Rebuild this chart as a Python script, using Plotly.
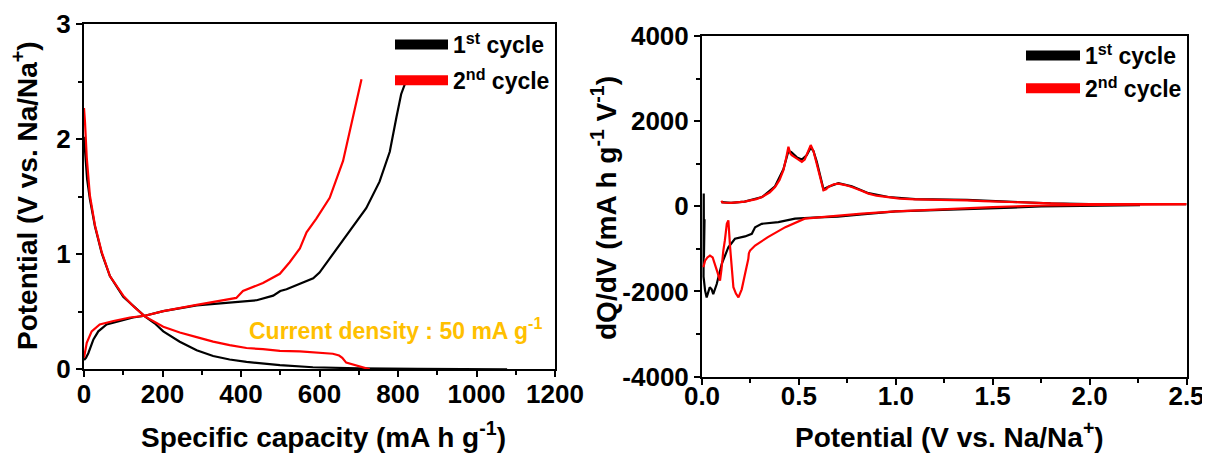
import plotly.graph_objects as go

# ---------------- Left panel: galvanostatic profiles ----------------
cap_dis1 = [0, 3, 8, 15, 28, 45, 66, 100, 125, 155, 180, 202, 244, 287, 329, 371, 414, 456, 499, 583, 700, 850, 1000, 1078]
pot_dis1 = [2.02, 1.85, 1.65, 1.48, 1.24, 1.01, 0.81, 0.63, 0.55, 0.46, 0.40, 0.33, 0.24, 0.165, 0.115, 0.085, 0.065, 0.048, 0.036, 0.018, 0.008, 0.004, 0.002, 0.0]

cap_dis2 = [0, 2.5, 7, 15, 28, 45, 66, 100, 125, 155, 202, 244, 287, 329, 371, 414, 456, 499, 550, 600, 634, 650, 658, 668, 698, 728]
pot_dis2 = [2.27, 2.15, 1.84, 1.51, 1.25, 1.02, 0.81, 0.64, 0.55, 0.46, 0.37, 0.32, 0.28, 0.24, 0.21, 0.185, 0.175, 0.16, 0.155, 0.145, 0.135, 0.12, 0.10, 0.058, 0.03, 0.0]

cap_ch1 = [0, 5, 11, 18, 24, 36.5, 57.6, 91.6, 125, 155, 202, 287, 371, 440, 482, 500, 516, 550, 584, 600, 634, 677, 719, 753, 779, 796, 808, 821]
pot_ch1 = [0.08, 0.10, 0.14, 0.20, 0.26, 0.33, 0.39, 0.42, 0.45, 0.465, 0.505, 0.555, 0.58, 0.60, 0.64, 0.68, 0.695, 0.74, 0.79, 0.84, 1.0, 1.2, 1.4, 1.63, 1.89, 2.19, 2.39, 2.51]

cap_ch2 = [0, 7, 19.5, 40, 75, 117, 155, 202, 287, 371, 388, 405, 456, 499, 524, 550, 567, 592, 626, 660, 686, 707]
pot_ch2 = [0.10, 0.23, 0.33, 0.39, 0.42, 0.45, 0.465, 0.505, 0.56, 0.61, 0.62, 0.68, 0.75, 0.83, 0.93, 1.05, 1.19, 1.31, 1.49, 1.81, 2.19, 2.52]

# ---------------- Right panel: dQ/dV ----------------
v_dis1 = [2.26, 2.0, 1.75, 1.6, 1.5, 1.26, 1.0, 0.825, 0.70, 0.6, 0.48, 0.394, 0.308, 0.274, 0.257, 0.222, 0.17, 0.136,
          0.102, 0.076, 0.065, 0.058, 0.05, 0.04, 0.03, 0.024, 0.016, 0.010, 0.008, 0.009, 0.010, 0.011, 0.012, 0.013]
q_dis1 = [30, 20, 0, -30, -45, -75, -120, -190, -240, -260, -290, -370, -410, -490, -645, -707, -762, -960,
          -1350, -1825, -2000, -2060, -1950, -1900, -2050, -2140, -1980, -1800, -1650, 300, -1200, 200, -900, -300]

v_ch1 = [0.10, 0.15, 0.22, 0.31, 0.377, 0.42, 0.446, 0.46, 0.49, 0.515, 0.54, 0.561, 0.575, 0.592, 0.627, 0.652, 0.704,
         0.773, 0.859, 0.962, 1.1, 1.367, 1.574, 1.8, 2.0, 2.5]
q_ch1 = [100, 80, 110, 220, 470, 870, 1300, 1280, 1150, 1100, 1200, 1380, 1300, 1050, 400, 460, 545,
         470, 310, 220, 170, 150, 110, 70, 55, 50]

v_dis2 = [2.5, 2.26, 2.0, 1.75, 1.5, 1.26, 1.1, 1.0, 0.825, 0.65, 0.53, 0.43, 0.34, 0.274, 0.248, 0.242, 0.239, 0.222,
          0.205, 0.188, 0.175, 0.162, 0.152, 0.145, 0.136, 0.128, 0.118, 0.110, 0.100, 0.093, 0.08, 0.067, 0.055,
          0.041, 0.028, 0.016, 0.007]
q_dis2 = [50, 40, 35, 20, -16, -70, -90, -120, -172, -236, -290, -488, -724, -920, -1038, -1100, -1234, -1590,
          -1950, -2140, -2050, -1900, -1400, -960, -330, -410, -800, -1040, -1500, -1745, -1550, -1350, -1200,
          -1155, -1200, -1275, -1430]

v_ch2 = [0.10, 0.105, 0.15, 0.22, 0.28, 0.31, 0.35, 0.377, 0.40, 0.42, 0.435, 0.446, 0.455, 0.463, 0.49, 0.515, 0.53,
         0.54, 0.561, 0.575, 0.592, 0.61, 0.627, 0.64, 0.652, 0.68, 0.704, 0.74, 0.773, 0.82, 0.859, 0.90, 0.962,
         1.02, 1.10, 1.2, 1.367, 1.45, 1.574, 1.70, 1.763, 1.9, 2.2, 2.5]
q_ch2 = [130, 90, 80, 110, 170, 220, 330, 455, 620, 850, 1150, 1400, 1250, 1200, 1120, 1045, 1100,
         1200, 1440, 1300, 1005, 650, 377, 400, 455, 520, 535, 500, 455, 370, 300, 250, 220,
         180, 165, 160, 141, 125, 101, 80, 64, 55, 50, 50]

# ---------------- tick definitions ----------------
xl_ticks = [0, 200, 400, 600, 800, 1000, 1200]
yl_ticks = [0, 1, 2, 3]
xr_ticks = [0.0, 0.5, 1.0, 1.5, 2.0, 2.5]
xr_text = ["0.0", "0.5", "1.0", "1.5", "2.0", "2.5"]
yr_ticks = [-4000, -2000, 0, 2000, 4000]
yr_text = ["-4000", "-2000", "0", "2000", "4000"]

series_names = ["1<sup>st</sup> cycle", "2<sup>nd</sup> cycle"]
BLACK = "#000000"
RED = "#FF0000"
GOLD = "#FFC000"
FONT = "Liberation Sans, Arial, sans-serif"

W, H = 1210, 453
OFF = 8  # page body margin


def px(x):
    return (x - OFF) / W


def py(y):
    return 1 - (y - OFF) / H


fig = go.Figure()

lw = 2.2
# left panel
fig.add_trace(go.Scatter(x=cap_dis1, y=pot_dis1, mode="lines", line=dict(color=BLACK, width=lw), showlegend=False, xaxis="x", yaxis="y"))
fig.add_trace(go.Scatter(x=cap_ch1, y=pot_ch1, mode="lines", line=dict(color=BLACK, width=lw), showlegend=False, xaxis="x", yaxis="y"))
fig.add_trace(go.Scatter(x=cap_dis2, y=pot_dis2, mode="lines", line=dict(color=RED, width=lw), showlegend=False, xaxis="x", yaxis="y"))
fig.add_trace(go.Scatter(x=cap_ch2, y=pot_ch2, mode="lines", line=dict(color=RED, width=lw), showlegend=False, xaxis="x", yaxis="y"))
# right panel
fig.add_trace(go.Scatter(x=v_dis1, y=q_dis1, mode="lines", line=dict(color=BLACK, width=lw), showlegend=False, xaxis="x2", yaxis="y2"))
fig.add_trace(go.Scatter(x=v_ch1, y=q_ch1, mode="lines", line=dict(color=BLACK, width=lw), showlegend=False, xaxis="x2", yaxis="y2"))
fig.add_trace(go.Scatter(x=v_dis2, y=q_dis2, mode="lines", line=dict(color=RED, width=lw), showlegend=False, xaxis="x2", yaxis="y2"))
fig.add_trace(go.Scatter(x=v_ch2, y=q_ch2, mode="lines", line=dict(color=RED, width=lw), showlegend=False, xaxis="x2", yaxis="y2"))

# legend entries
for i, (name, col) in enumerate(zip(series_names, [BLACK, RED])):
    fig.add_trace(go.Scatter(x=[None], y=[None], mode="lines", name=name, line=dict(color=col, width=10),
                             legend="legend", legendgroup="L%d" % i, xaxis="x", yaxis="y"))
    fig.add_trace(go.Scatter(x=[None], y=[None], mode="lines", name=name, line=dict(color=col, width=10),
                             legend="legend2", legendgroup="R%d" % i, xaxis="x2", yaxis="y2"))

tickfont = dict(family=FONT, size=26, color="black", weight="bold")
axis_common = dict(showline=True, linecolor="black", linewidth=2, mirror=True, ticks="outside",
                   ticklen=6, tickwidth=2, tickcolor="black", showgrid=False, zeroline=False,
                   tickfont=tickfont, automargin=False)

fig.update_layout(
    width=W, height=H,
    margin=dict(l=0, r=0, t=0, b=0, pad=0, autoexpand=False),
    paper_bgcolor="white", plot_bgcolor="white",
    font=dict(family=FONT, color="black"),
    xaxis=dict(domain=[px(84), px(555)], range=[0, 1200], anchor="y", tickvals=xl_ticks, ticklabelstandoff=-6,
               minor=dict(ticks="outside", ticklen=4, tickwidth=1.5, tickcolor="black", dtick=100, tick0=0),
               **axis_common),
    yaxis=dict(domain=[py(369.3), py(24)], range=[0, 3], anchor="x", tickvals=yl_ticks,
               minor=dict(ticks="outside", ticklen=4, tickwidth=1.5, tickcolor="black", dtick=0.5, tick0=0),
               **axis_common),
    xaxis2=dict(domain=[px(702), px(1186.5)], range=[0, 2.5], anchor="y2", tickvals=xr_ticks, ticktext=xr_text,
                ticklabelstandoff=-11,
                minor=dict(ticks="outside", ticklen=4, tickwidth=1.5, tickcolor="black", dtick=0.25, tick0=0),
                **axis_common),
    yaxis2=dict(domain=[py(376.6), py(36.1)], range=[-4000, 4000], anchor="x2", tickvals=yr_ticks,
                ticktext=yr_text,
                minor=dict(ticks="outside", ticklen=4, tickwidth=1.5, tickcolor="black", dtick=1000, tick0=0),
                **axis_common),
    legend=dict(x=382 / W, y=1 - 15 / H, xanchor="left", yanchor="top", bgcolor="rgba(0,0,0,0)",
                font=dict(family=FONT, size=23, color="black", weight="bold"), tracegroupgap=3,
                itemwidth=53),
    legend2=dict(x=1013 / W, y=1 - 26 / H, xanchor="left", yanchor="top", bgcolor="rgba(0,0,0,0)",
                 font=dict(family=FONT, size=23, color="black", weight="bold"), tracegroupgap=0,
                 itemwidth=54),
)

title_font = dict(family=FONT, size=28, color="black", weight="bold")
annos = [
    dict(text="Specific capacity (mA h g<sup>-1</sup>)", x=px(323), y=py(435), xref="paper", yref="paper",
         xanchor="center", yanchor="middle", showarrow=False, font=title_font),
    dict(text="Potential (V vs. Na/Na<sup>+</sup>)", x=px(25), y=py(196), xref="paper", yref="paper",
         xanchor="center", yanchor="middle", showarrow=False, textangle=-90, font=title_font),
    dict(text="Potential (V vs. Na/Na<sup>+</sup>)", x=px(949), y=py(435), xref="paper", yref="paper",
         xanchor="center", yanchor="middle", showarrow=False, font=title_font),
    dict(text="dQ/dV (mA h g<sup>-1</sup> V<sup>-1</sup>)", x=px(604), y=py(208), xref="paper", yref="paper",
         xanchor="center", yanchor="middle", showarrow=False, textangle=-90, font=title_font),
    dict(text="Current density : 50 mA g<sup>-1</sup>", x=px(247), y=py(329), xref="paper", yref="paper",
         xanchor="left", yanchor="middle", showarrow=False,
         font=dict(family=FONT, size=23, color=GOLD, weight="bold")),
]
fig.update_layout(annotations=annos)

fig.write_html("out.html")
